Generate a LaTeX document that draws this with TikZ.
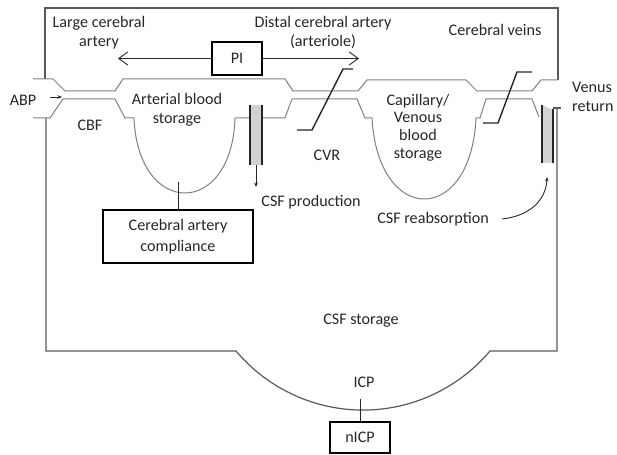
\documentclass[tikz,border=0pt]{standalone}
\usepackage{fontspec}
\setmainfont{Carlito}
\usetikzlibrary{arrows.meta}
\definecolor{vcol}{HTML}{808080}
\definecolor{wcol}{HTML}{5A5A5A}
\definecolor{dcol}{HTML}{262626}
\definecolor{fcol}{HTML}{D2D2D2}
\newcommand\lblfnt{\fontsize{16.2}{19}\selectfont}
\begin{document}
\begin{tikzpicture}[x=1bp,y=-1bp,
  vessel/.style={draw=vcol,line width=1bp,line join=round},
  wall/.style={draw=wcol,line width=1.2bp},
  resist/.style={draw=dcol,line width=1.4bp},
  chan/.style={draw=dcol,line width=2.6bp},
  conn/.style={draw=dcol,line width=0.9bp},
  lbl/.style={text=dcol,font=\lblfnt,align=center,inner sep=0pt},
  box/.style={draw=black,line width=1.6bp,text=dcol,font=\lblfnt,align=center,inner sep=0pt},
  smallhead/.style={-{Stealth[length=4.5bp,width=3.5bp]}},
  barb/.style={-{Straight Barb[length=9bp,width=13bp]}}]
\useasboundingbox (0,0) rectangle (617,455);

% outer box
\draw[wall] (45,79) -- (45,8) -- (558,8) -- (558,80);
\draw[wall] (46,118) -- (46,351) -- (236,351)
   arc[start angle=139.9, end angle=40.1, radius=166] -- (557,351) -- (557,108);
\draw[wall] (553,108) -- (561,108);

% vessel top wall
\draw[vessel] (33,79) -- (53,79) -- (65,91) -- (115,91) -- (123,79) -- (285,79)
   -- (293,91) -- (358,91) -- (367,80) -- (466,80) -- (477,91) -- (532,91)
   -- (541,80) -- (558,80);
% vessel lower wall with storages
\draw[vessel] (33,118) -- (50,118) -- (63,99) -- (115,99) -- (125,118) -- (134,118)
   .. controls (138,218) and (232,218) .. (235,118) -- (285,118) -- (292,99)
   -- (357,99) -- (365,118) -- (372,118)
   .. controls (378,226) and (471,226) .. (476,118) -- (480,118) -- (486,99)
   -- (532,99) -- (539,117);

% CSF production channel
\fill[fcol] (250,105) rectangle (262,165);
\draw[chan] (250,105) -- (250,165);
\draw[chan] (262,105) -- (262,165);
\coordinate (cp1) at (256,165);
\coordinate (cp2) at (256,187);
\draw[conn,smallhead] (cp1) -- (cp2);

% CSF reabsorption channel
\fill[fcol] (542,105) -- (553,110) -- (553,163) -- (542,163) -- cycle;
\draw[chan] (542,105) -- (542,163);
\draw[chan] (553,109) -- (553,163);

% resistors
\draw[resist] (297,130) -- (312,130) -- (343,69) -- (353,69);
\draw[resist] (483,123) -- (498,123) -- (517,72) -- (532,72);

% labels
\node[lbl] (lca) at (99,32.5) {Large cerebral\\artery};
\node[lbl] (dca) at (323,32.5) {Distal cerebral artery\\(arteriole)};
\node[lbl] (cv) at (495,30) {Cerebral veins};
\node[lbl] (abp) at (23,100) {ABP};
\node[lbl] (cbf) at (90,125) {CBF};
\node[lbl] (abs) at (177,110) {Arterial blood\\storage};
\node[lbl] (cvr) at (327,155) {CVR};
\node[lbl] (csfp) at (311,202) {CSF production};
\node[lbl,font=\fontsize{16.2}{17.8}\selectfont] (cvbs) at (418,127.5) {Capillary/\\Venous\\blood\\storage};
\node[lbl,anchor=west,align=left] (ven) at (572,97) {Venus\\return};
\node[lbl] (reab) at (433,219) {CSF reabsorption};
\node[lbl] (csfs) at (361,321) {CSF storage};
\node[lbl] (icp) at (364,382) {ICP};

% boxes
\node[box,minimum width=50bp,minimum height=33bp] (pi) at (237,58.5) {PI};
\node[box,minimum width=150bp,minimum height=53bp,font=\fontsize{16.2}{20.5}\selectfont] (comp) at (178,236.5) {Cerebral artery\\compliance};
\node[box,minimum width=60bp,minimum height=31bp] (nicp) at (360,437.5) {nICP};

% connectors
\coordinate (pil) at (118,58.5);
\coordinate (pir) at (359,58.5);
\draw[conn,barb] (pi.west) -- (pil);
\draw[conn,barb] (pi.east) -- (pir);
\coordinate (abp1) at (50,97);
\coordinate (abp2) at (62,97);
\draw[conn,smallhead] (abp1) -- (abp2);
\coordinate (bowlbot) at (178,182);
\draw[conn] (bowlbot) -- (comp.north);
\coordinate (arcbot) at (360,399);
\draw[conn] (arcbot) -- (nicp.north);
\coordinate (reabend) at (547,177);
\draw[conn,smallhead] ([xshift=13bp]reab.east) .. controls (530,216) and (546,200) .. (reabend);
\end{tikzpicture}
\end{document}
